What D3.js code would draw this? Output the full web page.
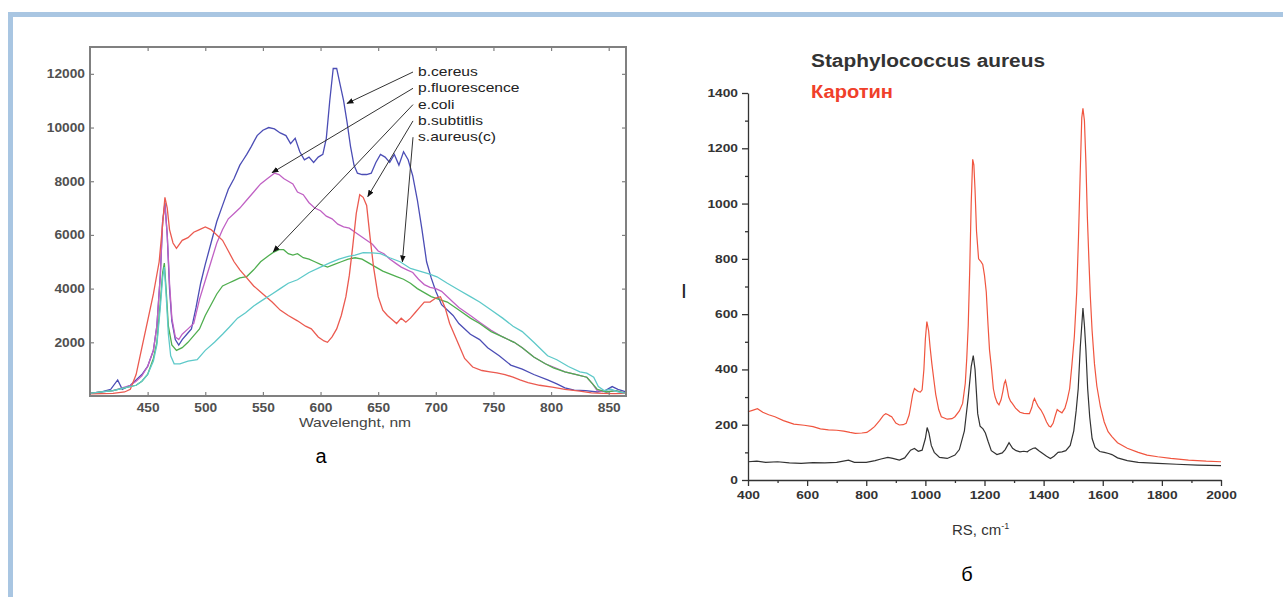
<!DOCTYPE html>
<html lang="ru">
<head>
<meta charset="utf-8">
<title>Спектры бактерий</title>
<script src="https://cdn.jsdelivr.net/npm/d3@7"></script>
<style>
  body { margin: 0; background: #fff; }
  svg text { font-family: "Liberation Sans", Arial, sans-serif; }
</style>
</head>
<body>
<script>
// ---- left panel: fluorescence spectra, [wavelength nm, counts]
var bCereus = [[400,100],[410,150],[418,250],[424,600],[428,250],[435,400],[440,600],[445,800],[450,1100],[455,1700],[458,2600],[461,4500],[463,6500],[465,7200],[467,6000],[469,4000],[471,2800],[474,2100],[477,1900],[480,2100],[484,2300],[488,2500],[492,3300],[496,4200],[500,4900],[505,5700],[510,6500],[515,7100],[520,7700],[525,8100],[530,8600],[533,8800],[536,9000],[540,9300],[545,9700],[550,9900],[555,10000],[560,9950],[565,9800],[570,9700],[574,9400],[578,9600],[582,9100],[586,8800],[590,8900],[594,8700],[598,8900],[602,9000],[605,9600],[608,11000],[611,12200],[614,12200],[617,11600],[620,11000],[623,10200],[626,9300],[629,8600],[632,8300],[636,8250],[640,8250],[644,8300],[648,8700],[652,9000],[656,8900],[660,8700],[664,9000],[668,8600],[672,9100],[676,8800],[680,8200],[684,7300],[688,6200],[692,5000],[696,4400],[700,3900],[705,3400],[710,3200],[715,3000],[720,2700],[730,2300],[738,2100],[745,1800],[755,1500],[765,1150],[775,1000],[785,800],[797,600],[805,450],[812,300],[820,220],[830,200],[840,150],[847,200],[853,350],[858,250],[865,150]];
var pFluorescence = [[400,100],[410,150],[420,200],[428,300],[435,400],[440,550],[445,750],[450,1100],[455,1700],[458,2600],[461,4500],[463,6500],[465,7100],[467,6000],[469,4200],[471,2900],[474,2200],[477,2100],[480,2300],[485,2500],[490,2700],[495,3600],[500,4300],[505,5000],[510,5700],[515,6200],[520,6600],[525,6800],[530,7000],[536,7300],[542,7600],[548,7900],[554,8100],[560,8300],[564,8250],[568,8100],[572,8000],[576,7900],[580,7600],[585,7500],[590,7200],[595,7000],[600,6900],[605,6700],[610,6600],[615,6400],[620,6300],[625,6250],[630,6100],[635,5950],[640,5800],[645,5650],[650,5400],[655,5300],[660,5100],[665,4950],[670,4800],[675,4700],[680,4600],[685,4350],[690,4150],[695,4050],[700,4000],[705,3900],[710,3700],[720,3300],[730,3000],[738,2750],[748,2450],[758,2200],[768,2000],[775,1800],[785,1450],[795,1200],[802,1080],[812,900],[822,800],[831,700],[836,450],[840,200],[848,150],[856,200],[865,100]];
var eColi = [[400,100],[410,150],[420,200],[430,300],[440,400],[445,550],[450,800],[455,1400],[458,2000],[461,3500],[463,4600],[464.5,4950],[466,4000],[468,2600],[471,1900],[475,1700],[480,1800],[485,2000],[490,2250],[495,2500],[500,3000],[505,3400],[510,3800],[515,4100],[520,4200],[525,4300],[530,4400],[536,4450],[542,4700],[548,5000],[554,5200],[559,5350],[564,5450],[568,5450],[572,5300],[576,5250],[580,5300],[585,5150],[590,5100],[595,5000],[600,4900],[606,4800],[612,4900],[618,5000],[624,5100],[630,5150],[636,5100],[642,4950],[648,4800],[654,4650],[660,4550],[666,4450],[672,4350],[678,4200],[684,4000],[690,3850],[696,3700],[704,3580],[710,3500],[720,3200],[730,2900],[738,2700],[748,2400],[758,2200],[768,2000],[775,1800],[785,1450],[795,1200],[802,1050],[812,900],[822,800],[831,700],[836,450],[840,250],[848,150],[856,200],[865,100]];
var bSubtilis = [[400,80],[420,100],[430,150],[435,250],[440,800],[445,1800],[450,2800],[455,3800],[460,5000],[463,6400],[465,7400],[467,7000],[469,6200],[472,5700],[475,5500],[480,5800],[485,5900],[490,6100],[495,6200],[500,6300],[505,6200],[510,6000],[515,5800],[520,5400],[525,5000],[530,4700],[536,4400],[542,4100],[550,3800],[558,3500],[565,3200],[572,3000],[580,2800],[587,2600],[592,2500],[598,2200],[603,2050],[606,2000],[610,2200],[614,2500],[618,3000],[622,3700],[625,4500],[628,5600],[631,6800],[634,7500],[637,7400],[640,7100],[643,5900],[646,4800],[650,3700],[654,3200],[658,3000],[662,2850],[666,2700],[670,2900],[674,2750],[678,2900],[682,3100],[686,3300],[690,3500],[695,3500],[700,3650],[704,3700],[708,3300],[712,2700],[716,2300],[720,1900],[725,1400],[732,1080],[740,950],[747,900],[753,860],[760,800],[767,700],[773,600],[780,500],[790,400],[801,330],[812,250],[825,180],[835,120],[845,100],[855,90],[865,100]];
var sAureusC = [[400,100],[410,150],[420,200],[430,300],[440,400],[445,550],[450,800],[455,1300],[458,1900],[461,3300],[463,4400],[464.5,4800],[466,3800],[468,2300],[470,1500],[473,1200],[478,1200],[485,1300],[493,1350],[500,1700],[508,2000],[515,2300],[521,2570],[528,2900],[535,3100],[542,3350],[550,3580],[558,3800],[565,4000],[572,4200],[580,4330],[590,4600],[600,4800],[608,4960],[616,5100],[624,5200],[630,5250],[637,5340],[645,5330],[652,5300],[660,5150],[669,5000],[678,4750],[686,4650],[694,4550],[701,4440],[710,4200],[720,3950],[730,3700],[738,3500],[748,3200],[758,2900],[767,2600],[775,2400],[785,2000],[791,1750],[797,1500],[805,1350],[815,1100],[825,900],[831,850],[837,700],[841,350],[846,200],[852,250],[858,150],[865,100]];

var leftNames = ["b.cereus", "p.fluorescence", "e.coli", "b.subtitlis", "s.aureus(c)"];
var leftSeries = [bCereus, pFluorescence, eColi, bSubtilis, sAureusC];
var leftColors = ["#4b4db5", "#c061c4", "#4fae4f", "#eb5a50", "#5ec9c9"];
// where each label's arrow lands on its curve [nm, counts]
var arrowTips = [[623,10900], [558,8320], [559,5370], [641,7430], [671,5000]];
var leftXTicks = [450, 500, 550, 600, 650, 700, 750, 800, 850];
var leftYTicks = [2000, 4000, 6000, 8000, 10000, 12000];

// ---- right panel: Raman spectra, [RS cm-1, intensity]
var sAureus = [[400,66],[430,68],[460,64],[500,66],[540,62],[580,60],[620,63],[660,62],[700,64],[740,72],[760,64],[800,64],[830,70],[850,76],[873,82],[890,78],[912,72],[930,80],[950,108],[963,114],[976,104],[989,108],[1000,150],[1006,190],[1012,170],[1020,125],[1030,100],[1048,82],[1074,78],[1100,90],[1115,110],[1132,178],[1145,300],[1155,410],[1162,450],[1168,400],[1177,240],[1185,195],[1195,185],[1203,170],[1212,140],[1223,106],[1242,92],[1260,98],[1270,110],[1283,135],[1295,115],[1307,106],[1320,102],[1333,104],[1345,102],[1352,108],[1365,115],[1372,116],[1385,105],[1397,96],[1410,86],[1423,78],[1435,86],[1449,100],[1462,102],[1475,106],[1490,125],[1502,178],[1510,250],[1517,330],[1524,480],[1533,622],[1538,560],[1543,470],[1549,330],[1556,227],[1564,150],[1574,118],[1590,103],[1605,100],[1620,96],[1631,92],[1650,80],[1683,70],[1720,64],[1786,60],[1850,57],[1920,54],[2000,52]];
var carotene = [[400,247],[415,252],[432,258],[450,245],[470,236],[491,229],[520,215],[555,202],[590,198],[620,193],[645,185],[672,181],[700,180],[724,177],[745,172],[763,169],[785,170],[802,172],[815,182],[828,193],[845,215],[858,234],[866,240],[874,236],[880,232],[886,229],[900,206],[912,199],[925,200],[935,205],[945,235],[950,265],[957,310],[963,331],[970,325],[976,320],[983,318],[989,326],[995,400],[1000,510],[1005,573],[1011,540],[1016,480],[1022,420],[1029,360],[1035,310],[1045,255],[1054,229],[1074,220],[1090,222],[1100,229],[1115,250],[1126,277],[1135,350],[1140,440],[1145,560],[1150,760],[1155,1000],[1160,1160],[1164,1140],[1168,1050],[1173,900],[1180,800],[1188,790],[1194,780],[1200,740],[1206,680],[1212,560],[1217,470],[1223,410],[1230,330],[1236,300],[1243,280],[1249,272],[1256,290],[1262,320],[1267,350],[1271,360],[1276,335],[1282,300],[1288,285],[1294,277],[1305,260],[1320,245],[1333,241],[1345,240],[1352,240],[1360,262],[1365,285],[1369,295],[1375,280],[1382,265],[1391,253],[1400,235],[1410,210],[1418,195],[1424,192],[1432,205],[1440,235],[1446,255],[1452,250],[1462,243],[1472,260],[1480,290],[1488,330],[1496,420],[1504,520],[1512,680],[1518,880],[1524,1120],[1529,1310],[1533,1345],[1538,1300],[1543,1150],[1548,950],[1553,800],[1558,664],[1564,540],[1572,420],[1580,340],[1592,265],[1605,210],[1618,175],[1631,157],[1650,135],[1683,115],[1720,100],[1750,90],[1786,84],[1830,78],[1890,72],[1950,68],[2000,66]];
var rightXTicks = [400, 600, 800, 1000, 1200, 1400, 1600, 1800, 2000];
var rightYTicks = [0, 200, 400, 600, 800, 1000, 1200, 1400];

var width = 1283, height = 597;
var plain = d3.format("d");

var svg = d3.select("body").append("svg")
    .attr("width", width)
    .attr("height", height);

// stretch text a bit wider, the source picture is squeezed horizontally
function stretch(sel, k) {
    sel.each(function() {
        var w = this.getComputedTextLength();
        d3.select(this).attr("textLength", w * k).attr("lengthAdjust", "spacingAndGlyphs");
    });
}

// light blue frame of the page
svg.append("rect").attr("x", 8).attr("y", 12).attr("width", width - 8).attr("height", 5).attr("fill", "#a9c6e2");
svg.append("rect").attr("x", 8).attr("y", 12).attr("width", 5).attr("height", height - 12).attr("fill", "#a9c6e2");

// ================= left chart =================
var L = {left: 90, right: 626, top: 47, bottom: 396};
var x1 = d3.scaleLinear().domain([400, 865]).range([L.left, L.right]);
var y1 = d3.scaleLinear().domain([0, 13000]).range([L.bottom, L.top]);

var g1 = svg.append("g");

var line1 = d3.line()
    .x(function(d) { return x1(d[0]); })
    .y(function(d) { return y1(d[1]); });

g1.selectAll("path.spec")
    .data(leftSeries)
    .enter()
    .append("path")
    .attr("class", "spec")
    .attr("d", line1)
    .attr("fill", "none")
    .attr("stroke", function(d, i) { return leftColors[i]; })
    .attr("stroke-width", 1.3);

// axes, ticks point inside
g1.append("g").attr("transform", "translate(0," + L.bottom + ")")
    .call(d3.axisBottom(x1).tickValues(leftXTicks).tickSize(-4).tickPadding(7).tickFormat(plain));
g1.append("g").attr("transform", "translate(" + L.left + ",0)")
    .call(d3.axisLeft(y1).tickValues(leftYTicks).tickSize(-4).tickPadding(5).tickFormat(plain));
g1.append("g").attr("transform", "translate(0," + L.top + ")")
    .call(d3.axisTop(x1).tickValues(leftXTicks).tickSize(-4).tickFormat(""));
g1.append("g").attr("transform", "translate(" + L.right + ",0)")
    .call(d3.axisRight(y1).tickValues(leftYTicks).tickSize(-4).tickFormat(""));
g1.selectAll(".domain").remove();
g1.selectAll(".tick line").attr("stroke", "#808080").attr("stroke-width", 1.2);
g1.selectAll(".tick text").attr("fill", "#505050").attr("font-size", 12.5).attr("font-weight", "bold")
    .attr("font-family", "Liberation Sans, Arial, sans-serif");
stretch(g1.selectAll(".tick text"), 1.1);

g1.append("rect")
    .attr("x", L.left).attr("y", L.top)
    .attr("width", L.right - L.left).attr("height", L.bottom - L.top)
    .attr("fill", "none").attr("stroke", "#808080").attr("stroke-width", 2);

var xt1 = g1.append("text").attr("x", 355).attr("y", 427).attr("text-anchor", "middle")
    .attr("font-size", 13).attr("fill", "#444").text("Wavelenght, nm");
stretch(xt1, 1.2);

// legend labels with arrows
svg.append("defs").append("marker")
    .attr("id", "head")
    .attr("viewBox", "0 0 10 10")
    .attr("refX", 9).attr("refY", 5)
    .attr("markerWidth", 7).attr("markerHeight", 7)
    .attr("orient", "auto")
    .append("path").attr("d", "M0,1L10,5L0,9Z").attr("fill", "#111");

var labelX = 418, labelY0 = 76, labelStep = 16.3;
leftNames.forEach(function(name, i) {
    var by = labelY0 + i * labelStep;
    var t = g1.append("text").attr("x", labelX).attr("y", by)
        .attr("font-size", 13).attr("fill", "#222").text(name);
    stretch(t, 1.2);
    g1.append("line")
        .attr("x1", labelX - 5).attr("y1", by - 4)
        .attr("x2", x1(arrowTips[i][0])).attr("y2", y1(arrowTips[i][1]))
        .attr("stroke", "#333").attr("stroke-width", 1)
        .attr("marker-end", "url(#head)");
});

svg.append("text").attr("x", 321).attr("y", 463).attr("text-anchor", "middle")
    .attr("font-family", "Liberation Serif, Times New Roman, serif").attr("font-size", 20)
    .attr("fill", "#000").text("а");

// ================= right chart =================
var R = {left: 748, right: 1221, top: 93, bottom: 480};
var x2 = d3.scaleLinear().domain([400, 2000]).range([R.left, R.right]);
var y2 = d3.scaleLinear().domain([0, 1400]).range([R.bottom, R.top]);

var g2 = svg.append("g");

var line2 = d3.line()
    .x(function(d) { return x2(d[0]); })
    .y(function(d) { return y2(d[1]); });

g2.append("path").attr("d", line2(carotene)).attr("fill", "none")
    .attr("stroke", "#f0553f").attr("stroke-width", 1.2);
g2.append("path").attr("d", line2(sAureus)).attr("fill", "none")
    .attr("stroke", "#333").attr("stroke-width", 1.2);

// minor ticks first
g2.append("g").attr("class", "minor").attr("transform", "translate(0," + R.bottom + ")")
    .call(d3.axisBottom(x2).tickValues(d3.range(500, 2000, 200)).tickSize(3).tickFormat(""));
g2.append("g").attr("class", "minor").attr("transform", "translate(" + R.left + ",0)")
    .call(d3.axisLeft(y2).tickValues(d3.range(100, 1400, 200)).tickSize(3).tickFormat(""));
g2.selectAll(".minor .domain").remove();

g2.append("g").attr("transform", "translate(0," + R.bottom + ")")
    .call(d3.axisBottom(x2).tickValues(rightXTicks).tickSize(6).tickPadding(5).tickSizeOuter(0).tickFormat(plain));
g2.append("g").attr("transform", "translate(" + R.left + ",0)")
    .call(d3.axisLeft(y2).tickValues(rightYTicks).tickSize(6).tickPadding(4).tickSizeOuter(0).tickFormat(plain));
g2.selectAll(".domain, .tick line").attr("stroke", "#333").attr("stroke-width", 1.3);
g2.selectAll(".tick text").attr("fill", "#333").attr("font-size", 11).attr("font-weight", "bold")
    .attr("font-family", "Liberation Sans, Arial, sans-serif");
stretch(g2.selectAll(".tick text"), 1.25);

var title = g2.append("text").attr("x", 811).attr("y", 67)
    .attr("font-size", 18).attr("font-weight", "bold").attr("fill", "#333")
    .text("Staphylococcus aureus");
title.attr("textLength", 234).attr("lengthAdjust", "spacingAndGlyphs");
var sub = g2.append("text").attr("x", 811).attr("y", 98)
    .attr("font-size", 18).attr("font-weight", "bold").attr("fill", "#f0402a")
    .text("Каротин");
sub.attr("textLength", 82).attr("lengthAdjust", "spacingAndGlyphs");

g2.append("text").attr("x", 684).attr("y", 298).attr("text-anchor", "middle")
    .attr("font-size", 21).attr("fill", "#222").text("I");

var xl = g2.append("text").attr("x", 952).attr("y", 535).attr("font-size", 15).attr("fill", "#333");
xl.append("tspan").text("RS, cm");
xl.append("tspan").attr("dy", -6).attr("font-size", 9).text("-1");

svg.append("text").attr("x", 967).attr("y", 581).attr("text-anchor", "middle")
    .attr("font-family", "Liberation Serif, Times New Roman, serif").attr("font-size", 20)
    .attr("fill", "#000").text("б");
</script>
</body>
</html>
